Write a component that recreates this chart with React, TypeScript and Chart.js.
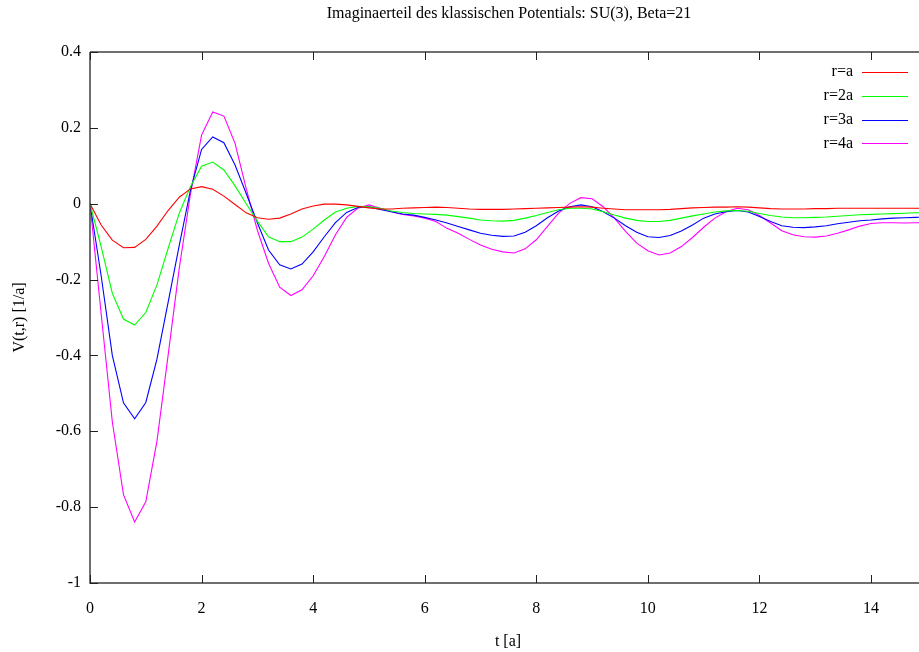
import React, { useEffect, useRef } from "react";
import { Chart, registerables } from "chart.js";

Chart.register(...registerables);

const TITLE = "Imaginaerteil des klassischen Potentials: SU(3), Beta=21";
const X_TITLE = "t [a]";
const Y_TITLE = "V(t,r) [1/a]";

const tValues = [
  0, 0.2, 0.4, 0.6, 0.8, 1.0, 1.2, 1.4, 1.6, 1.8,
  2.0, 2.2, 2.4, 2.6, 2.8, 3.0, 3.2, 3.4, 3.6, 3.8,
  4.0, 4.2, 4.4, 4.6, 4.8, 5.0, 5.2, 5.4, 5.6, 5.8,
  6.0, 6.2, 6.4, 6.6, 6.8, 7.0, 7.2, 7.4, 7.6, 7.8,
  8.0, 8.2, 8.4, 8.6, 8.8, 9.0, 9.2, 9.4, 9.6, 9.8,
  10.0, 10.2, 10.4, 10.6, 10.8, 11.0, 11.2, 11.4, 11.6, 11.8,
  12.0, 12.2, 12.4, 12.6, 12.8, 13.0, 13.2, 13.4, 13.6, 13.8,
  14.0, 14.2, 14.4, 14.6, 14.8, 15.0,
];

const rA = [
  0, -0.056, -0.096, -0.116, -0.115, -0.094, -0.059, -0.018, 0.017, 0.039,
  0.045, 0.038, 0.02, -0.002, -0.024, -0.037, -0.041, -0.038, -0.027, -0.014,
  -0.006, -0.001, -0.001, -0.003, -0.007, -0.011, -0.014, -0.014, -0.012, -0.011,
  -0.01, -0.009, -0.01, -0.012, -0.014, -0.015, -0.015, -0.015, -0.014, -0.013,
  -0.012, -0.011, -0.01, -0.009, -0.008, -0.009, -0.012, -0.014, -0.016, -0.016,
  -0.016, -0.016, -0.015, -0.013, -0.011, -0.01, -0.009, -0.009, -0.008, -0.009,
  -0.011, -0.013, -0.014, -0.014, -0.014, -0.013, -0.013, -0.012, -0.012, -0.012,
  -0.012, -0.012, -0.012, -0.012, -0.012, -0.012,
];

const r2A = [
  0, -0.113, -0.236, -0.304, -0.32, -0.287, -0.214, -0.118, -0.025, 0.045,
  0.099, 0.11, 0.089, 0.047, 0.0, -0.046, -0.087, -0.1, -0.1, -0.088,
  -0.067, -0.043, -0.022, -0.012, -0.007, -0.008, -0.012, -0.019, -0.023, -0.026,
  -0.027, -0.028, -0.03, -0.034, -0.038, -0.043, -0.045, -0.046, -0.044, -0.038,
  -0.031, -0.023, -0.016, -0.012, -0.012, -0.014, -0.021, -0.03, -0.038, -0.044,
  -0.047, -0.047, -0.044, -0.038, -0.032, -0.027, -0.022, -0.019, -0.018, -0.02,
  -0.026, -0.031, -0.035, -0.037, -0.037, -0.036, -0.035, -0.033, -0.031, -0.029,
  -0.028, -0.027, -0.026, -0.025, -0.024, -0.024,
];

const r3A = [
  0, -0.19, -0.4, -0.525, -0.567, -0.524, -0.41, -0.26, -0.11, 0.035,
  0.143, 0.176, 0.161, 0.102, 0.027, -0.05, -0.122, -0.161, -0.172, -0.159,
  -0.127, -0.087, -0.05, -0.023, -0.01, -0.008, -0.015, -0.021, -0.027, -0.03,
  -0.036, -0.043, -0.051, -0.06, -0.069, -0.078, -0.083, -0.086, -0.085, -0.075,
  -0.058, -0.037, -0.019, -0.008, -0.003, -0.008, -0.021, -0.038, -0.058, -0.075,
  -0.087, -0.089, -0.084, -0.072, -0.056, -0.038, -0.027, -0.021, -0.018, -0.022,
  -0.034, -0.047, -0.058, -0.062, -0.063, -0.061, -0.058, -0.053, -0.049, -0.045,
  -0.043, -0.04, -0.038, -0.037, -0.036, -0.035,
];

const r4A = [
  0, -0.29, -0.575, -0.767, -0.839, -0.786, -0.626, -0.4, -0.17, 0.025,
  0.181, 0.242, 0.231, 0.159, 0.04, -0.07, -0.157, -0.22, -0.242, -0.227,
  -0.19, -0.139, -0.082, -0.036, -0.012, -0.003, -0.012, -0.021, -0.028, -0.032,
  -0.038, -0.047, -0.065, -0.078, -0.094, -0.109, -0.12, -0.127, -0.13, -0.119,
  -0.095, -0.06, -0.025, 0.001, 0.016, 0.013, -0.008, -0.038, -0.073, -0.104,
  -0.124, -0.135, -0.13, -0.113, -0.089, -0.062, -0.038, -0.021, -0.012, -0.016,
  -0.031, -0.051, -0.071, -0.082, -0.087, -0.088, -0.085, -0.078, -0.069, -0.059,
  -0.052, -0.05, -0.05, -0.051, -0.05, -0.05,
];

const seriesLabels = ["r=a", "r=2a", "r=3a", "r=4a"];
const seriesColors = ["#ff0000", "#00ff00", "#0000ff", "#ff00ff"];
const seriesValues = [rA, r2A, r3A, r4A];

const X_MIN = 0;
const X_MAX = 14.86;
const Y_MIN = -1;
const Y_MAX = 0.4;

const FONT = "'Liberation Serif', 'Times New Roman', serif";
const FONT_SIZE = 16;

const framePlugin = {
  id: "gnuplotFrame",
  afterDraw(chart: any) {
    const ctx = chart.ctx;
    const { left, right, top, bottom } = chart.chartArea;
    const xs = chart.scales.x;
    const ys = chart.scales.y;
    ctx.save();
    ctx.strokeStyle = "#404040";
    ctx.lineWidth = 1.5;
    ctx.beginPath();
    ctx.moveTo(left, top);
    ctx.lineTo(right + 2, top);
    ctx.moveTo(left, top);
    ctx.lineTo(left, bottom);
    ctx.lineTo(right + 2, bottom);
    ctx.stroke();

    ctx.lineWidth = 1;
    ctx.strokeStyle = "#202020";
    ctx.beginPath();
    const tl = 8;
    for (const t of xs.ticks) {
      const px = Math.round(xs.getPixelForValue(t.value)) + 0.5;
      ctx.moveTo(px, bottom);
      ctx.lineTo(px, bottom - tl);
      ctx.moveTo(px, top);
      ctx.lineTo(px, top + tl);
    }
    for (const t of ys.ticks) {
      const py = Math.round(ys.getPixelForValue(t.value)) + 0.5;
      ctx.moveTo(left, py);
      ctx.lineTo(left + tl, py);
    }
    ctx.stroke();

    ctx.fillStyle = "#000";
    ctx.font = `${FONT_SIZE}px ${FONT}`;
    ctx.textAlign = "center";
    ctx.textBaseline = "middle";
    ctx.fillText(TITLE, 509, 14);
    ctx.fillText(X_TITLE, 508, 642);
    ctx.save();
    ctx.translate(20, (top + bottom) / 2);
    ctx.rotate(-Math.PI / 2);
    ctx.fillText(Y_TITLE, 0, 0);
    ctx.restore();

    // legend
    chart.data.datasets.forEach((ds: any, i: number) => {
      const y = 72 + 23.8 * i;
      ctx.textAlign = "right";
      ctx.fillStyle = "#000";
      ctx.fillText(ds.label, 853, y);
      ctx.strokeStyle = ds.borderColor;
      ctx.lineWidth = 1;
      ctx.beginPath();
      ctx.moveTo(862, Math.round(y) + 0.5);
      ctx.lineTo(908, Math.round(y) + 0.5);
      ctx.stroke();
    });
    ctx.restore();
  },
};

export default function App() {
  const canvasRef = useRef<HTMLCanvasElement | null>(null);

  useEffect(() => {
    document.body.style.margin = "0";
    const canvas = canvasRef.current;
    if (!canvas) return;
    const datasets = seriesValues.map((vals, i) => ({
      label: seriesLabels[i],
      data: tValues.map((t, j) => ({ x: t, y: vals[j] })),
      borderColor: seriesColors[i],
      backgroundColor: seriesColors[i],
      borderWidth: 1.1,
      pointRadius: 0,
      tension: 0,
      fill: false,
    }));
    const chart = new Chart(canvas, {
      type: "line",
      data: { datasets },
      options: {
        animation: false,
        responsive: false,
        devicePixelRatio: 1,
        layout: { padding: { top: 52, left: 0, right: 0, bottom: 0 } },
        plugins: {
          legend: { display: false },
          title: { display: false },
          tooltip: { enabled: false },
        },
        scales: {
          x: {
            type: "linear",
            min: X_MIN,
            max: X_MAX,
            afterFit: (s: any) => {
              s.height = 69;
            },
            grid: { display: false, drawTicks: false },
            border: { display: false },
            ticks: {
              stepSize: 2,
              includeBounds: false,
              padding: 16,
              color: "#000",
              font: { family: FONT, size: FONT_SIZE },
              maxRotation: 0,
              callback: (v: any) => String(Math.round(Number(v))),
            },
          },
          y: {
            type: "linear",
            min: Y_MIN,
            max: Y_MAX,
            afterFit: (s: any) => {
              s.width = 90;
            },
            grid: { display: false, drawTicks: false },
            border: { display: false },
            ticks: {
              stepSize: 0.2,
              includeBounds: false,
              padding: 9,
              color: "#000",
              font: { family: FONT, size: FONT_SIZE },
              callback: (v: any) => String(Number(Number(v).toFixed(1))),
            },
          },
        },
      },
      plugins: [framePlugin],
    });
    return () => chart.destroy();
  }, []);

  return (
    <div style={{ position: "absolute", left: 0, top: 0, width: 919, height: 652, background: "#fff" }}>
      <canvas ref={canvasRef} width={919} height={652} />
    </div>
  );
}
